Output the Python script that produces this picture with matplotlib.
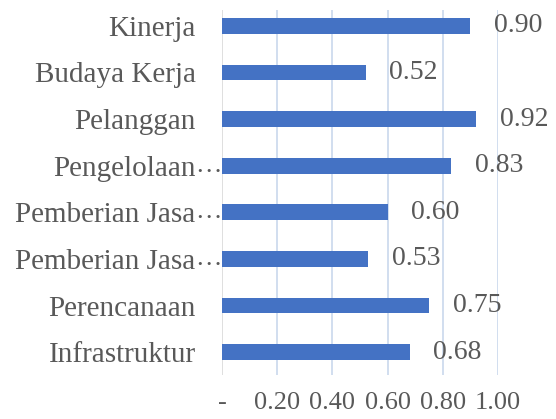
import matplotlib.pyplot as plt

# data (top to bottom as in the chart)
categories = ['Kinerja', 'Budaya Kerja', 'Pelanggan', 'Pengelolaan…',
              'Pemberian Jasa…', 'Pemberian Jasa…', 'Perencanaan', 'Infrastruktur']
values = [0.90, 0.52, 0.92, 0.83, 0.60, 0.53, 0.75, 0.68]
xticks = [0.0, 0.2, 0.4, 0.6, 0.8, 1.0]
xtick_labels = ['-', '0.20', '0.40', '0.60', '0.80', '1.00']

plt.rcParams['font.family'] = ['Liberation Serif', 'DejaVu Serif']
txt_color = '#595959'

fig = plt.figure(figsize=(5.56, 4.19), dpi=100)
ax = fig.add_axes([222 / 556, 1 - 375 / 419, (498 - 222) / 556, (375 - 10) / 419])

pos = list(range(len(categories)))
bars = ax.barh(pos, values, height=0.34, color='#4472C4', zorder=3)

ax.set_xlim(0, 1.0)
ax.set_ylim(7.49, -0.34)

# gridlines
for x in xticks:
    ax.axvline(x, color='#d9d9d9' if x == 0 else '#c9d8ec', lw=1.2, zorder=1)

for s in ax.spines.values():
    s.set_visible(False)

ax.set_xticks(xticks)
ax.set_xticklabels(xtick_labels, fontsize=19, color=txt_color)
ax.tick_params(axis='x', length=0, pad=12)

# category labels, ellipsis hangs out past the right alignment
short = [c.rstrip('…') for c in categories]
ax.set_yticks(pos)
ax.set_yticklabels(short, fontsize=21, color=txt_color)
ax.tick_params(axis='y', length=0, pad=19)
for p, c in zip(pos, categories):
    if c.endswith('…'):
        ax.annotate('…', xy=(0, p), xycoords=('axes fraction', 'data'),
                    xytext=(-19, 0), textcoords='offset points',
                    ha='left', va='center', fontsize=19, color=txt_color)

ax.bar_label(bars, labels=[f'{v:.2f}' for v in values], padding=17,
             fontsize=20, color=txt_color, clip_on=False)

fig.savefig('out.png', dpi=100)
